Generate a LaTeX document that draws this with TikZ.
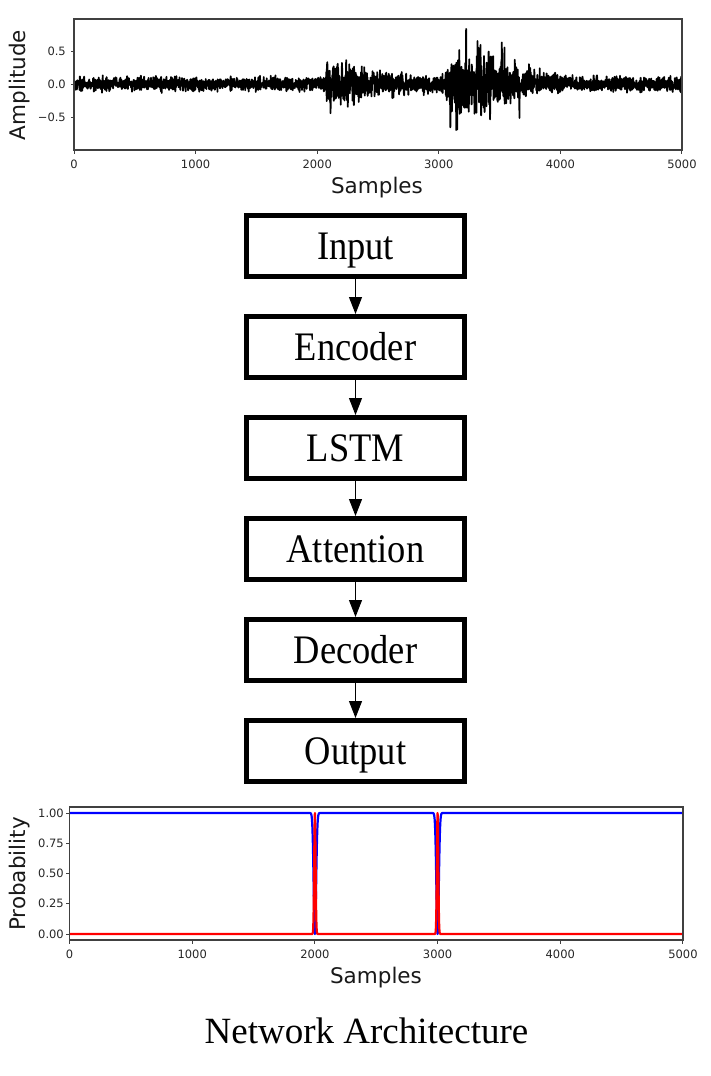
\documentclass[tikz,border=0pt]{standalone}
\usepackage{fontspec}
\setmainfont{Liberation Serif}
\newfontfamily\plotfont{DejaVu Sans}
\newfontfamily\boxfont[FakeStretch=0.9]{Liberation Serif}
\usetikzlibrary{arrows.meta}
\begin{document}
\begin{tikzpicture}[x=1pt,y=-1pt,
  blk/.style={draw=black, line width=5pt, minimum width=218pt, minimum height=61pt,
    inner sep=0pt, font=\boxfont\fontsize{40.5}{44}\selectfont, text height=27pt, text depth=0pt},
  conn/.style={line width=1pt, -{Triangle[width=13pt,length=17pt]}},
  spine/.style={line width=1.1pt, draw=black!75},
  tk/.style={line width=1pt, draw=black!75},
  ticklab/.style={font=\plotfont\fontsize{11.5}{13}\selectfont, text=black!85, inner sep=0pt},
  axlab/.style={font=\plotfont\fontsize{21.5}{24}\selectfont, text=black!90, inner sep=0pt},
  wave/.style={line width=1.8pt, draw=black, line join=round},
  probline/.style={line width=2.2pt, line join=round},
]
\useasboundingbox (0,0) rectangle (711,1076);
\pgfmathsetseed{4711}

% ---------------- top plot: waveform ----------------
\begin{scope}
  \clip (74,19) rectangle (682,150);
  \draw[wave] plot[domain=0:5000, samples=3001, variable=\t]
    ({74+0.1216*\t},
     {84-66*((0.1+0.3*(\t>2070)*exp(-max(\t-2070,0)/350))*(rand+rand+rand)/2
        +0.42*(max(\t-3000,0)/250)*exp(1-max(\t-3000,0)/250)*(rand+rand+rand)/2*(1+1.0*(rand>0.85)))});
\end{scope}
\draw[spine] (74,19) rectangle (682,150);
\foreach \v in {0,1000,2000,3000,4000,5000}{
  \draw[tk] ({74+0.1216*\v},150) -- ++(0,3.5);
  \node[ticklab, anchor=north] (tx\v) at ({74+0.1216*\v},160) {\v};
}
\foreach \v/\l [count=\i] in {0.5/0.5, 0/0.0, -0.5/−0.5}{
  \draw[tk] (74,{84-66*\v}) -- ++(-3.5,0);
  \node[ticklab, anchor=east] (ty\i) at (66,{84-66*\v}) {\l};
}
\node[axlab, anchor=base] (xlabtop) at (377,193) {Samples};
\node[axlab, anchor=base, rotate=90] (ylabtop) at (25,85) {Amplitude};

% ---------------- flow chart ----------------
\node[blk] (in)  at (355.5,246) {Input};
\node[blk] (enc) at (355.5,347) {Encoder};
\node[blk] (lstm) at (355.5,448) {LSTM};
\node[blk] (att) at (355.5,549) {Attention};
\node[blk] (dec) at (355.5,650) {Decoder};
\node[blk] (out) at (355.5,751) {Output};
\draw[conn] (in) -- (enc);
\draw[conn] (enc) -- (lstm);
\draw[conn] (lstm) -- (att);
\draw[conn] (att) -- (dec);
\draw[conn] (dec) -- (out);

% ---------------- bottom plot: probabilities ----------------
\begin{scope}
  \clip (69.5,807) rectangle (683,940);
  \draw[probline, blue] (69.5,813) -- ({69.5+0.1227*1940},813)
    -- plot[domain=1940:2060, samples=61, variable=\t]
       ({69.5+0.1227*\t},{934-121*(1-exp(-(((\t-2000)/14)^2)))})
    -- ({69.5+0.1227*2940},813)
    -- plot[domain=2940:3060, samples=61, variable=\t]
       ({69.5+0.1227*\t},{934-121*(1-exp(-(((\t-3000)/14)^2)))})
    -- (683,813);
  \draw[probline, red] (69.5,934) -- ({69.5+0.1227*1950},934)
    -- plot[domain=1950:2050, samples=61, variable=\t]
       ({69.5+0.1227*\t},{934-121*exp(-(((\t-2000)/8)^2))})
    -- ({69.5+0.1227*2950},934)
    -- plot[domain=2950:3050, samples=61, variable=\t]
       ({69.5+0.1227*\t},{934-121*exp(-(((\t-3000)/8)^2))})
    -- (683,934);
\end{scope}
\draw[spine] (69.5,807) rectangle (683,940);
\foreach \v in {0,1000,2000,3000,4000,5000}{
  \draw[tk] ({69.5+0.1227*\v},940) -- ++(0,3.5);
  \node[ticklab, anchor=north] (bx\v) at ({69.5+0.1227*\v},949.5) {\v};
}
\foreach \p/\l [count=\i] in {1/1.00, 0.75/0.75, 0.5/0.50, 0.25/0.25, 0/0.00}{
  \draw[tk] (69.5,{934-121*\p}) -- ++(-3.5,0);
  \node[ticklab, anchor=east] (by\i) at (64,{934-121*\p}) {\l};
}
\node[axlab, anchor=base] (xlabbot) at (376,983) {Samples};
\node[axlab, anchor=base, rotate=90] (ylabbot) at (25,874) {Probability};

% ---------------- title ----------------
\node[font=\fontsize{37}{40}\selectfont, anchor=base, inner sep=0pt] (title) at (366.5,1043) {Network Architecture};
\end{tikzpicture}
\end{document}
